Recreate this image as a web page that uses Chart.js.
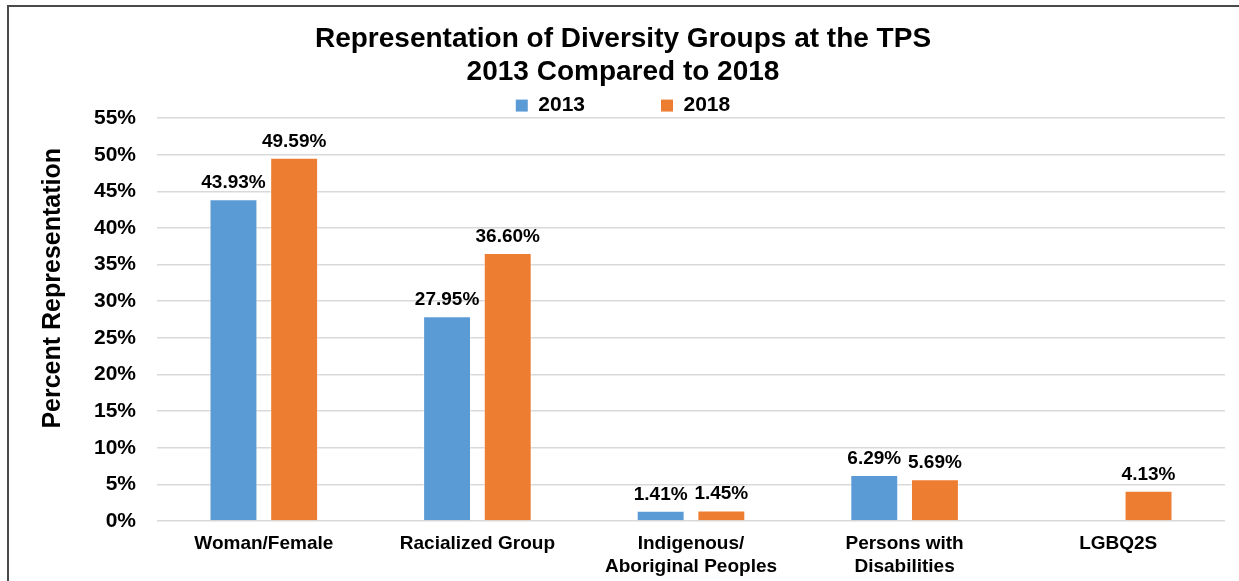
<!DOCTYPE html>
<html>
<head>
<meta charset="utf-8">
<script src="https://cdn.jsdelivr.net/npm/chart.js@4/dist/chart.umd.min.js"></script>
<style>
  html, body { margin: 0; padding: 0; background: #fff; overflow: hidden; }
  .frame { position: absolute; left: 7px; top: 5px; width: 1250px; height: 600px;
           border-left: 2px solid #4a4a4a; border-top: 2px solid #4a4a4a; }
  #myChart { position: absolute; left: 0; top: 0; }
</style>
</head>
<body>
<div class="frame"></div>
<canvas id="myChart" width="1239" height="581"></canvas>
<script>
// categories + values
const groups = [
  "Woman/Female",
  "Racialized Group",
  ["Indigenous/", "Aboriginal Peoples"],
  ["Persons with", "Disabilities"],
  "LGBQ2S"
];
const years = ["2013", "2018"];
const values2013 = [43.93, 27.95, 1.41, 6.29, null];
const values2018 = [49.59, 36.60, 1.45, 5.69, 4.13];
const yTicks = [0, 5, 10, 15, 20, 25, 30, 35, 40, 45, 50, 55];

Chart.defaults.font.family = '"Liberation Sans", Arial, sans-serif';
Chart.defaults.color = "#000";

// value labels on top of bars
const valueLabels = {
  id: "valueLabels",
  afterDatasetsDraw(chart) {
    const ctx = chart.ctx;
    ctx.save();
    ctx.font = 'bold 19px "Liberation Sans", Arial, sans-serif';
    ctx.fillStyle = "#000";
    ctx.textAlign = "center";
    ctx.textBaseline = "alphabetic";
    chart.data.datasets.forEach((ds, i) => {
      chart.getDatasetMeta(i).data.forEach((bar, j) => {
        const v = ds.data[j];
        if (v == null) return;
        ctx.fillText(v.toFixed(2) + "%", bar.x, bar.y - 11);
      });
    });
    ctx.restore();
  }
};

// legend box is a bit too tall by default, trim it
const legendTrim = {
  id: "legendTrim",
  beforeLayout(chart) {
    const lg = chart.legend;
    if (lg && !lg._trimmed) {
      const orig = lg.fit.bind(lg);
      lg.fit = function () { orig(); this.height -= 8; };
      lg._trimmed = true;
    }
  }
};

var myChart = new Chart("myChart", {
  type: "bar",
  data: {
    labels: groups,
    datasets: [
      {
        label: years[0],
        data: values2013,
        backgroundColor: "#5B9BD5",
        borderColor: "rgba(255,255,255,0.5)",
        borderWidth: 1
      },
      {
        label: years[1],
        data: values2018,
        backgroundColor: "#ED7D31",
        borderColor: "rgba(255,255,255,0.5)",
        borderWidth: 1
      }
    ]
  },
  options: {
    responsive: false,
    animation: false,
    layout: { padding: { left: 21, right: 14, top: 0, bottom: 0 } },
    datasets: {
      bar: { categoryPercentage: 0.568, barPercentage: 0.79 }
    },
    plugins: {
      title: {
        display: true,
        text: ["Representation of Diversity Groups at the TPS", "2013 Compared to 2018"],
        font: { size: 28, weight: "bold", lineHeight: 1.18 },
        color: "#000",
        padding: { top: 23, bottom: 0 }
      },
      legend: {
        display: true,
        labels: {
          boxWidth: 12,
          boxHeight: 12,
          padding: 6,
          color: "#000",
          font: { size: 21, weight: "bold" },
          generateLabels(chart) {
            const items = Chart.defaults.plugins.legend.labels.generateLabels(chart);
            // widen the gap between the two legend entries
            items[0].text = items[0].text + "            ";
            items.forEach(it => { it.strokeStyle = it.fillStyle; it.lineWidth = 0; });
            return items;
          }
        }
      },
      tooltip: { enabled: false }
    },
    scales: {
      x: {
        grid: { display: false, drawTicks: false },
        border: { display: false },
        ticks: {
          padding: 11,
          font: { size: 19, weight: "bold", lineHeight: 1.23 },
          color: "#000",
          maxRotation: 0
        },
        afterFit(scale) { scale.height = 60; }
      },
      y: {
        min: 0,
        max: 55,
        afterBuildTicks(scale) { scale.ticks = yTicks.map(v => ({ value: v })); },
        grid: { color: "#d9d9d9", lineWidth: 1.5, drawTicks: false },
        border: { display: false },
        ticks: {
          padding: 21,
          font: { size: 21, weight: "bold" },
          color: "#000",
          callback: v => v + "%"
        },
        title: {
          display: true,
          text: "         Percent Representation",
          font: { size: 25, weight: "bold", lineHeight: 1.2 },
          color: "#000",
          padding: { top: 17, bottom: 0 }
        },
        afterFit(scale) { scale.width = 136; }
      }
    }
  },
  plugins: [valueLabels, legendTrim]
});
</script>
</body>
</html>
